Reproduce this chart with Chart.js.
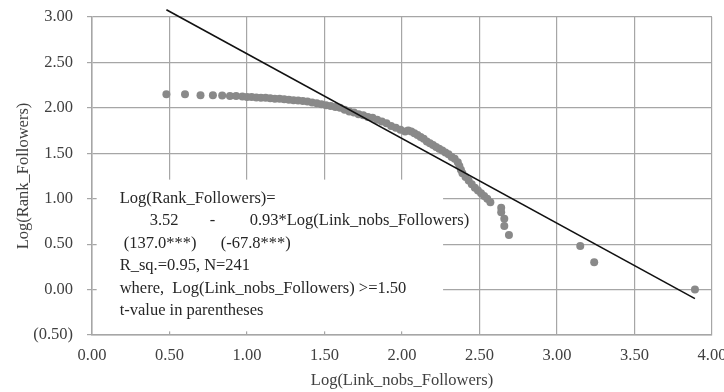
<!DOCTYPE html>
<html>
<head>
<meta charset="utf-8">
<script src="https://cdn.jsdelivr.net/npm/chart.js@4.4.0/dist/chart.umd.min.js"></script>
<style>
html, body { margin: 0; padding: 0; background: #fff; }
</style>
</head>
<body>
<canvas id="rankChart" width="724" height="392"></canvas>
<script>
// Observed points: Log(Link_nobs_Followers) vs Log(Rank_Followers)
const linkNobs = [0.48, 0.60, 0.70, 0.78, 0.84, 0.89, 0.93, 0.97, 1.00, 1.03, 1.06, 1.09, 1.12, 1.15, 1.18,
    1.21, 1.24, 1.27, 1.30, 1.33, 1.36, 1.39, 1.42, 1.45, 1.48, 1.51, 1.54, 1.57, 1.60, 1.63, 1.66, 1.69,
    1.72, 1.75, 1.78, 1.81, 1.84, 1.87, 1.90, 1.93, 1.96, 1.99, 2.02, 2.04, 2.06, 2.08, 2.10, 2.12, 2.14,
    2.16, 2.18, 2.20, 2.22, 2.24, 2.26, 2.28, 2.30, 2.32, 2.34, 2.36, 2.37, 2.38, 2.39, 2.41, 2.43, 2.45,
    2.47, 2.49, 2.51, 2.53, 2.55, 2.57, 2.64, 2.64, 2.66, 2.66, 2.69, 3.15, 3.24, 3.89];
const rankLog = [2.15, 2.15, 2.14, 2.14, 2.135, 2.13, 2.13, 2.125, 2.12, 2.12, 2.115, 2.11, 2.11, 2.105, 2.10,
    2.10, 2.095, 2.09, 2.085, 2.08, 2.075, 2.07, 2.06, 2.05, 2.04, 2.03, 2.02, 2.01, 2.00, 1.98, 1.96, 1.95,
    1.93, 1.92, 1.90, 1.89, 1.87, 1.85, 1.83, 1.80, 1.78, 1.76, 1.74, 1.75, 1.74, 1.72, 1.70, 1.68, 1.66,
    1.63, 1.61, 1.59, 1.57, 1.55, 1.53, 1.51, 1.49, 1.46, 1.44, 1.40, 1.36, 1.32, 1.28, 1.24, 1.20, 1.16,
    1.12, 1.09, 1.06, 1.03, 1.00, 0.96, 0.90, 0.85, 0.78, 0.70, 0.60, 0.48, 0.30, 0.00];

// Fitted line end points
const fitX = [0.48, 3.89];
const fitY = [3.08, -0.10];

const xTickValues = [0, 0.5, 1, 1.5, 2, 2.5, 3, 3.5, 4];
const yTickValues = [-0.5, 0, 0.5, 1, 1.5, 2, 2.5, 3];

const noteLines = [
    [["Log(Rank_Followers)=", 23]],
    [["3.52", 53], ["-", 113], ["0.93*Log(Link_nobs_Followers)", 153]],
    [["(137.0***)", 27], ["(-67.8***)", 124]],
    [["R_sq.=0.95, N=241", 23]],
    [["where,  Log(Link_nobs_Followers) >=1.50", 23]],
    [["t-value in parentheses", 23]]
];

const FONT = "'Liberation Serif', 'Times New Roman', serif";
const gridColor = "#a6a6a6";

// white text box with the regression summary
const noteBox = {
    id: "noteBox",
    beforeDatasetsDraw(chart) {
        const { ctx, scales: { x, y } } = chart;
        const left = x.getPixelForValue(0.03);
        const right = x.getPixelForValue(2.265);
        const top = y.getPixelForValue(1.21);
        const bottom = y.getPixelForValue(-0.46);
        ctx.save();
        ctx.fillStyle = "#fff";
        ctx.fillRect(left, top, right - left, bottom - top);
        ctx.fillStyle = "#262626";
        ctx.font = "16.5px " + FONT;
        ctx.textBaseline = "middle";
        noteLines.forEach((segs, i) => {
            const ty = top + 19 + i * 22.5;
            segs.forEach(([txt, dx]) => ctx.fillText(txt, left + dx, ty));
        });
        ctx.restore();
    }
};

const fmt = (v) => {
    const s = Math.abs(v).toFixed(2);
    return v < 0 ? "(" + s + ")" : s;
};

new Chart(document.getElementById("rankChart"), {
    type: "scatter",
    data: {
        datasets: [
            {
                type: "line",
                label: "Fit",
                data: fitX.map((v, i) => ({ x: v, y: fitY[i] })),
                borderColor: "#111",
                borderWidth: 1.6,
                pointRadius: 0,
                fill: false,
                clip: false,
            },
            {
                label: "Observed",
                data: linkNobs.map((v, i) => ({ x: v, y: rankLog[i] })),
                backgroundColor: "#898989",
                borderColor: "#898989",
                borderWidth: 0,
                pointRadius: 4,
            },
        ],
    },
    options: {
        responsive: false,
        animation: false,
        devicePixelRatio: 1,
        layout: { padding: { top: 17, right: 12, left: 0, bottom: 0 } },
        plugins: {
            legend: { display: false },
            tooltip: { enabled: false },
        },
        scales: {
            x: {
                type: "linear",
                min: 0,
                max: 4,
                afterBuildTicks: (s) => { s.ticks = xTickValues.map((v) => ({ value: v })); },
                afterFit: (s) => { s.height = 57; s.paddingLeft = 0; s.paddingRight = 0; },
                grid: { color: gridColor, lineWidth: 1.2, drawTicks: false },
                border: { color: gridColor, width: 1.5 },
                ticks: { color: "#404040", font: { family: FONT, size: 16.5 }, padding: 11, callback: fmt },
                title: {
                    display: true,
                    text: "Log(Link_nobs_Followers)",
                    color: "#404040",
                    font: { family: FONT, size: 16.5 },
                    padding: { top: 0, bottom: 1 },
                },
            },
            y: {
                type: "linear",
                min: -0.5,
                max: 3,
                afterBuildTicks: (s) => { s.ticks = yTickValues.map((v) => ({ value: v })); },
                afterFit: (s) => { s.width = 92; s.paddingTop = 0; s.paddingBottom = 0; },
                grid: { color: gridColor, lineWidth: 1.2, tickLength: 5 },
                border: { color: gridColor, width: 1.5 },
                ticks: { color: "#404040", font: { family: FONT, size: 16.5 }, padding: 14, callback: fmt },
                title: {
                    display: true,
                    text: "Log(Rank_Followers)",
                    color: "#404040",
                    font: { family: FONT, size: 16.5 },
                    padding: { top: 14, bottom: 0 },
                },
            },
        },
    },
    plugins: [noteBox],
});
</script>
</body>
</html>
